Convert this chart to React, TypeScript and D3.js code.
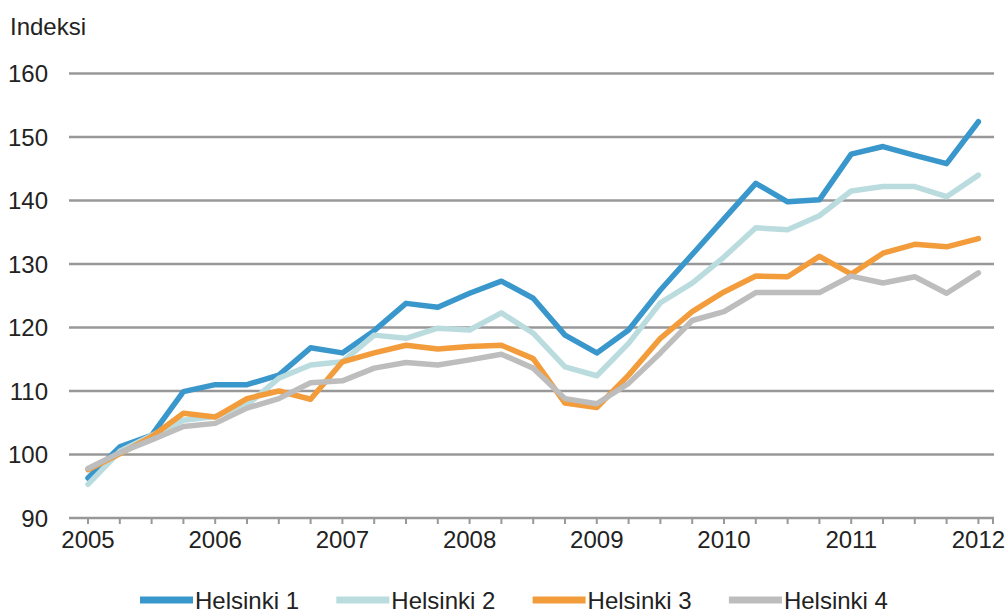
import React from "react";
import * as d3 from "d3";

const quarters: string[] = [
  "2005Q1","2005Q2","2005Q3","2005Q4",
  "2006Q1","2006Q2","2006Q3","2006Q4",
  "2007Q1","2007Q2","2007Q3","2007Q4",
  "2008Q1","2008Q2","2008Q3","2008Q4",
  "2009Q1","2009Q2","2009Q3","2009Q4",
  "2010Q1","2010Q2","2010Q3","2010Q4",
  "2011Q1","2011Q2","2011Q3","2011Q4",
  "2012Q1",
];
const yearLabels: string[] = ["2005","2006","2007","2008","2009","2010","2011","2012"];
const yTicks: number[] = [90, 100, 110, 120, 130, 140, 150, 160];

const helsinki1: number[] = [96.3,101.2,103,109.9,111,111,112.5,116.8,116.0,119.5,123.8,123.2,125.4,127.3,124.6,118.8,116.0,119.6,125.9,131.5,137.1,142.7,139.8,140.1,147.3,148.5,147.1,145.8,152.4];
const helsinki2: number[] = [95.3,100.5,103,105.4,106,107.8,112,114.1,114.6,118.8,118.3,119.9,119.6,122.3,119.1,113.8,112.4,117.5,123.9,127,131.1,135.7,135.4,137.6,141.5,142.2,142.2,140.6,144];
const helsinki3: number[] = [97.6,100.1,102.8,106.5,105.9,108.8,110,108.7,114.6,116.0,117.2,116.6,117,117.2,115.1,108.1,107.4,112.5,118.3,122.5,125.6,128.1,128,131.2,128.4,131.7,133.1,132.7,134];
const helsinki4: number[] = [97.8,100.3,102.3,104.4,104.9,107.3,108.8,111.3,111.6,113.6,114.5,114.1,114.9,115.8,113.6,108.8,108,111.2,116,121.1,122.5,125.5,125.5,125.5,128.1,127,128,125.4,128.6];

const seriesNames: string[] = ["Helsinki 1", "Helsinki 2", "Helsinki 3", "Helsinki 4"];
const seriesValues: number[][] = [helsinki1, helsinki2, helsinki3, helsinki4];
const colors: string[] = ["#3A97CC", "#BBDCDF", "#F39C3B", "#BDBDBD"];

export default function App() {
  const W = 1007, H = 615;
  const x = d3.scaleLinear().domain([0, quarters.length - 1]).range([88, 978.4]);
  const y = d3.scaleLinear().domain([90, 160]).range([518, 73.5]);
  const gridX0 = 69, gridX1 = 994;
  const font = "'Liberation Sans', Arial, sans-serif";
  const line = d3.line<number>().x((_, i) => x(i)).y((d) => y(d));

  return (
    <svg width={W} height={H} style={{ position: "absolute", left: 0, top: 0, background: "#fff" }} fontFamily={font}>
      <text x={10} y={35} fontSize={24} fill="#222">Indeksi</text>
      {yTicks.map((t) => (
        <g key={t}>
          <line x1={gridX0} x2={gridX1} y1={y(t)} y2={y(t)} stroke="#989898" strokeWidth={2.6} />
          <text x={48} y={y(t) + 8.5} fontSize={24} textAnchor="end" fill="#222">{t}</text>
        </g>
      ))}
      {quarters.map((q, i) => (
        <line key={q} x1={x(i)} x2={x(i)} y1={518} y2={524} stroke="#989898" strokeWidth={2} />
      ))}
      <line x1={gridX1 - 1} x2={gridX1 - 1} y1={518} y2={524} stroke="#989898" strokeWidth={2} />
      {yearLabels.map((yl, k) => (
        <text key={yl} x={x(k * 4)} y={548} fontSize={24} textAnchor="middle" fill="#222">{yl}</text>
      ))}
      {seriesValues.map((vals, s) => (
        <path key={seriesNames[s]} d={line(vals) || ""} fill="none" stroke={colors[s]} strokeWidth={5.5} strokeLinejoin="round" strokeLinecap="round" />
      ))}
      {seriesNames.map((n, s) => {
        const lx = 140 + s * 196.3;
        return (
          <g key={n}>
            <line x1={lx} x2={lx + 53} y1={600} y2={600} stroke={colors[s]} strokeWidth={7} />
            <text x={lx + 55} y={609} fontSize={24} fill="#222">{n}</text>
          </g>
        );
      })}
    </svg>
  );
}
